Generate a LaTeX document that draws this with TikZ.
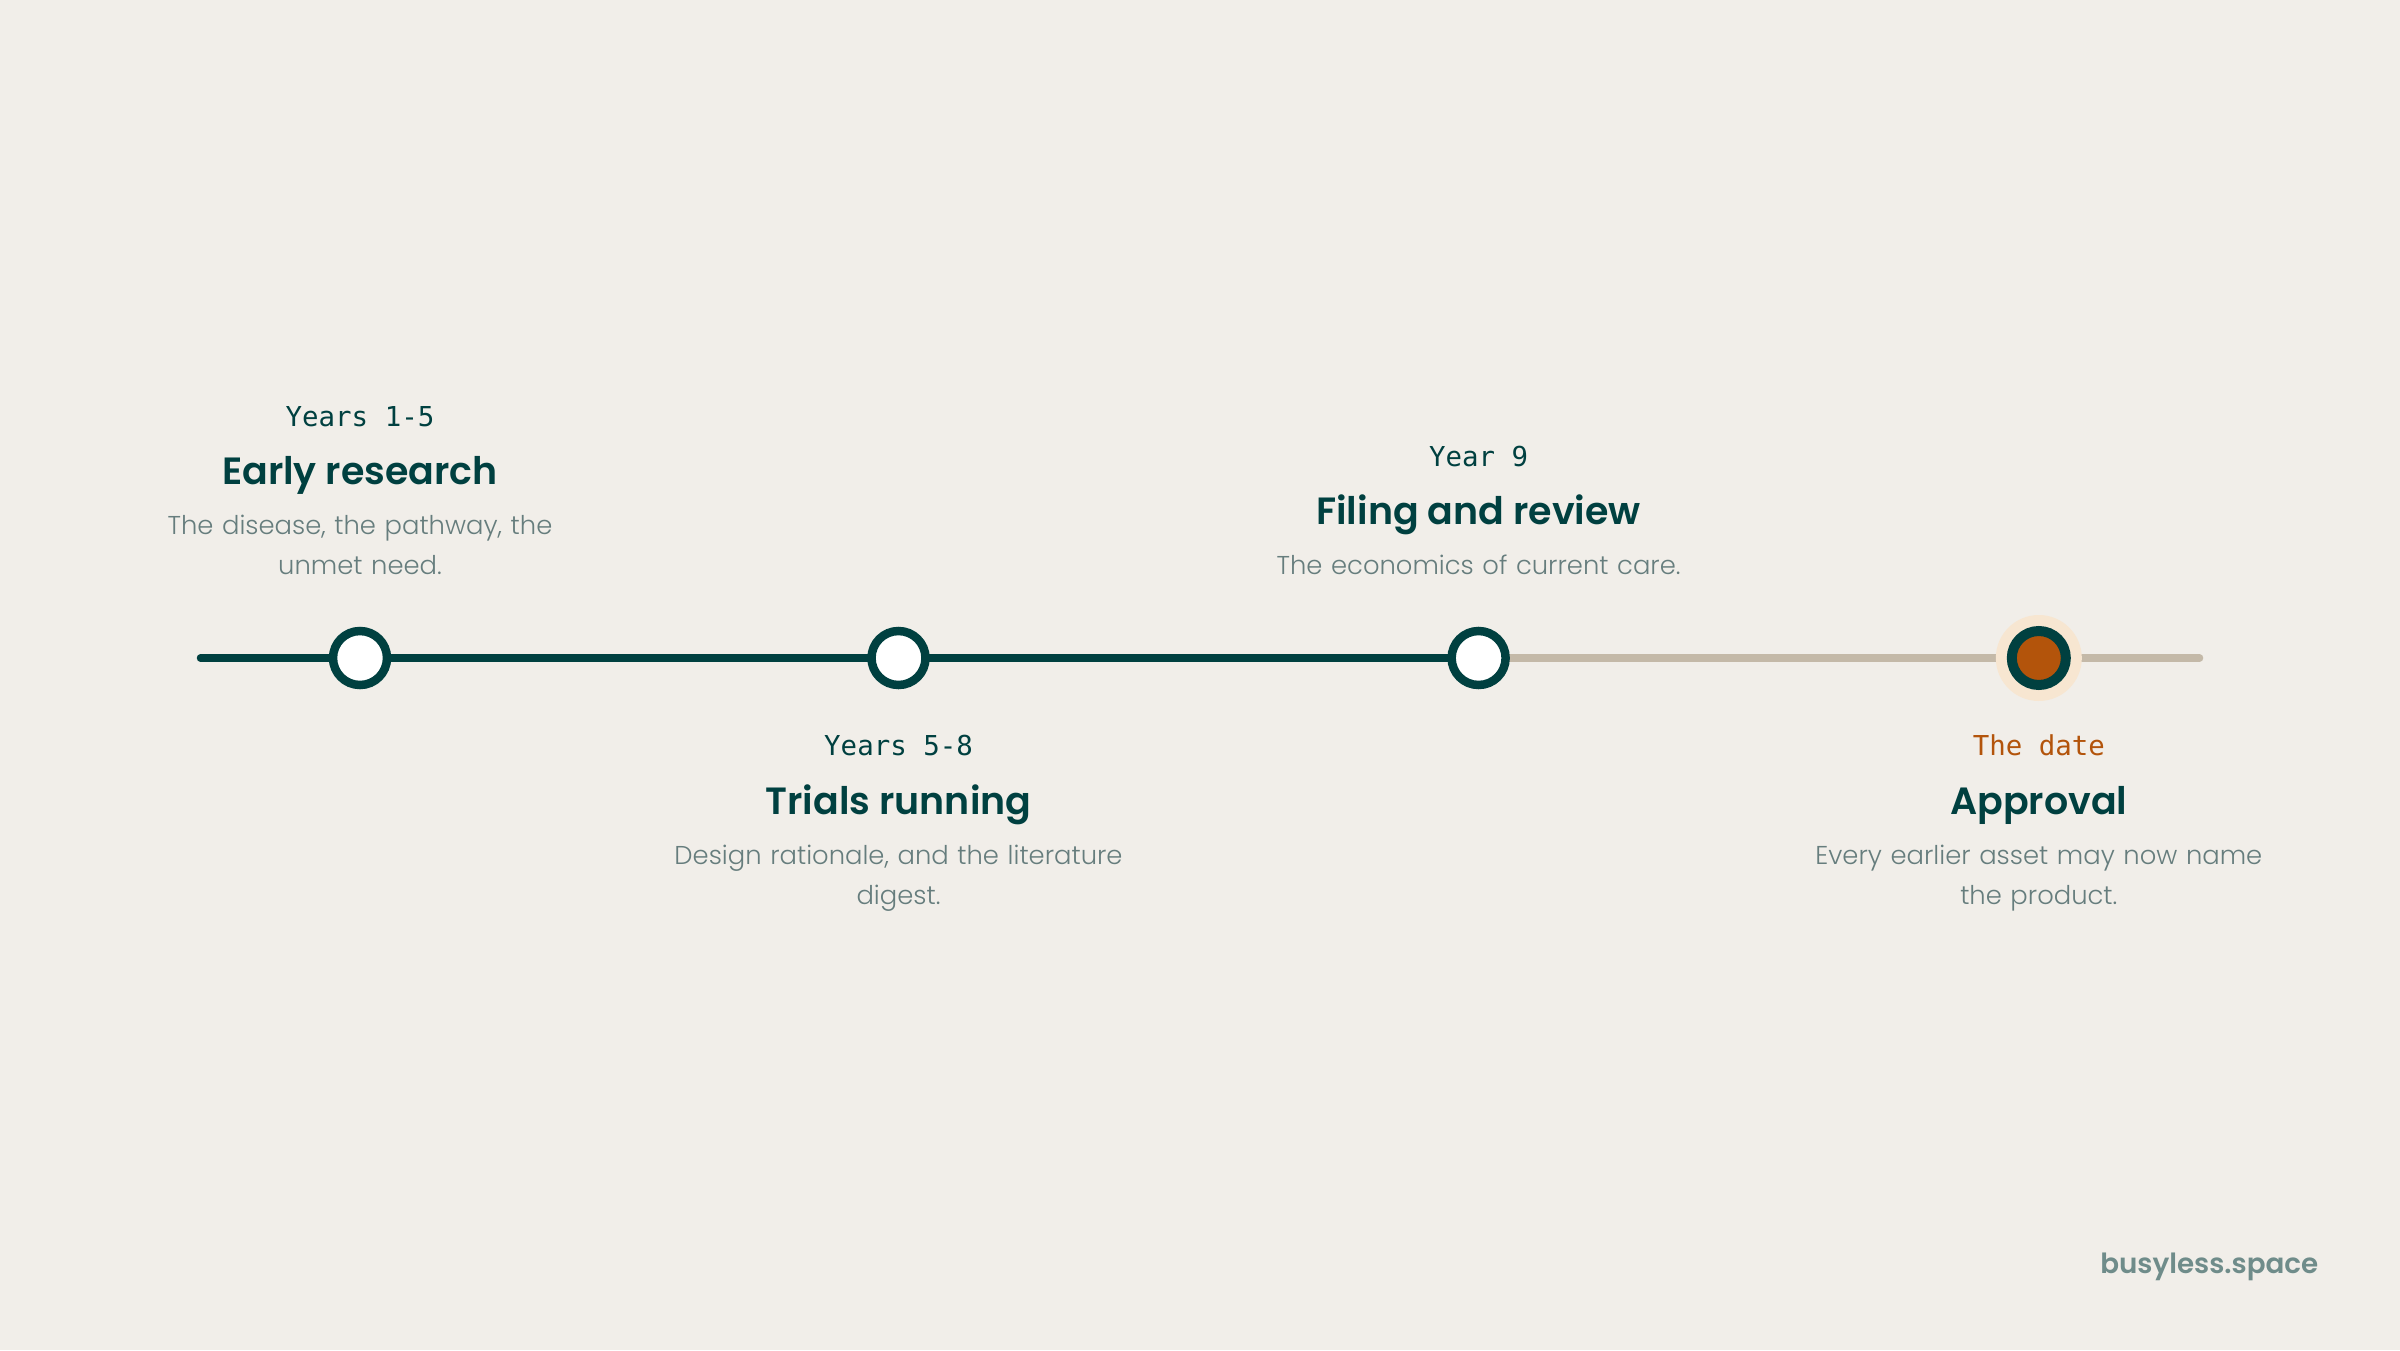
\documentclass[tikz,border=0pt]{standalone}
\usepackage{fontspec}
\setmainfont{Poppins}
\newfontfamily\headfont{Poppins}[UprightFont=* SemiBold]
\newfontfamily\lightfont{Poppins}[UprightFont=* Light]
\newfontfamily\codefont{DejaVu Sans Mono}

\definecolor{paper}{HTML}{F1EEE9}
\definecolor{pine}{HTML}{004040}
\definecolor{sand}{HTML}{C4B9A8}
\definecolor{rust}{HTML}{B3540B}
\definecolor{peach}{HTML}{F7E6D1}
\definecolor{slate}{HTML}{667D7D}
\definecolor{mist}{HTML}{6F8C8A}

\begin{document}
\begin{tikzpicture}[x=1cm,y=1cm,
    track/.style={line width=0.075cm, line cap=round},
    stone/.style={circle, draw=pine, fill=white, line width=0.085cm, minimum size=0.54cm, inner sep=0pt},
    goal/.style={circle, draw=pine, fill=rust, line width=0.1cm, minimum size=0.54cm, inner sep=0pt},
    glow/.style={circle, fill=peach, minimum size=0.86cm, inner sep=0pt},
    yearlbl/.style={font=\codefont\fontsize{7.8}{9}\selectfont, text=pine, inner sep=0pt, anchor=base},
    titlelbl/.style={font=\headfont\fontsize{10.8}{13}\selectfont, text=pine, inner sep=0pt, anchor=base},
    desclbl/.style={font=\lightfont\fontsize{7.35}{11.4}\selectfont, text=slate, inner sep=0pt, text width=6cm, align=center},
    marklbl/.style={font=\headfont\fontsize{7.9}{9}\selectfont, text=mist, inner sep=0pt}]%
    \fill[paper] (0,0) rectangle (24,13.5);
    % the track
    \coordinate (start) at (2.005,6.92);
    \coordinate (end) at (21.995,6.92);
    \coordinate (p1) at (3.600,6.92);
    \coordinate (p2) at (8.985,6.92);
    \coordinate (p3) at (14.786,6.92);
    \coordinate (p4) at (20.388,6.92);
    \draw[track, pine] (start) -- (p3);
    \draw[track, sand] (p3) -- (end);
    % milestones
    \foreach \i in {1,2,3} \node[stone] (m\i) at (p\i) {};
    \node[glow] (halo) at (p4) {};
    \node[goal] (m4) at (p4) {};
    % labels above
    \node[desclbl, anchor=south] (d1) at ([yshift=0.83cm]m1.center) {The disease, the pathway, the\\unmet need.};
    \node[titlelbl] (t1) at ([yshift=0.29cm]d1.north) {Early research};
    \node[yearlbl] (y1) at ([yshift=0.58cm]t1.base) {Years 1-5};
    \node[desclbl, anchor=south] (d3) at ([yshift=0.83cm]m3.center) {The economics of current care.};
    \node[titlelbl] (t3) at ([yshift=0.29cm]d3.north) {Filing and review};
    \node[yearlbl] (y3) at ([yshift=0.58cm]t3.base) {Year 9};
    % labels below
    \node[yearlbl] (y2) at ([yshift=-0.97cm]m2.center) {Years 5-8};
    \node[titlelbl] (t2) at ([yshift=-0.59cm]y2.base) {Trials running};
    \node[desclbl, anchor=base] (d2) at ([yshift=-0.50cm]t2.base) {Design rationale, and the literature\\digest.};
    \node[yearlbl, text=rust] (y4) at ([yshift=-0.97cm]m4.center) {The date};
    \node[titlelbl] (t4) at ([yshift=-0.59cm]y4.base) {Approval};
    \node[desclbl, anchor=base] (d4) at ([yshift=-0.50cm]t4.base) {Every earlier asset may now name\\the product.};
    \node[marklbl, anchor=base east] (site) at (23.19,0.77) {busyless.space};
\end{tikzpicture}
\end{document}
